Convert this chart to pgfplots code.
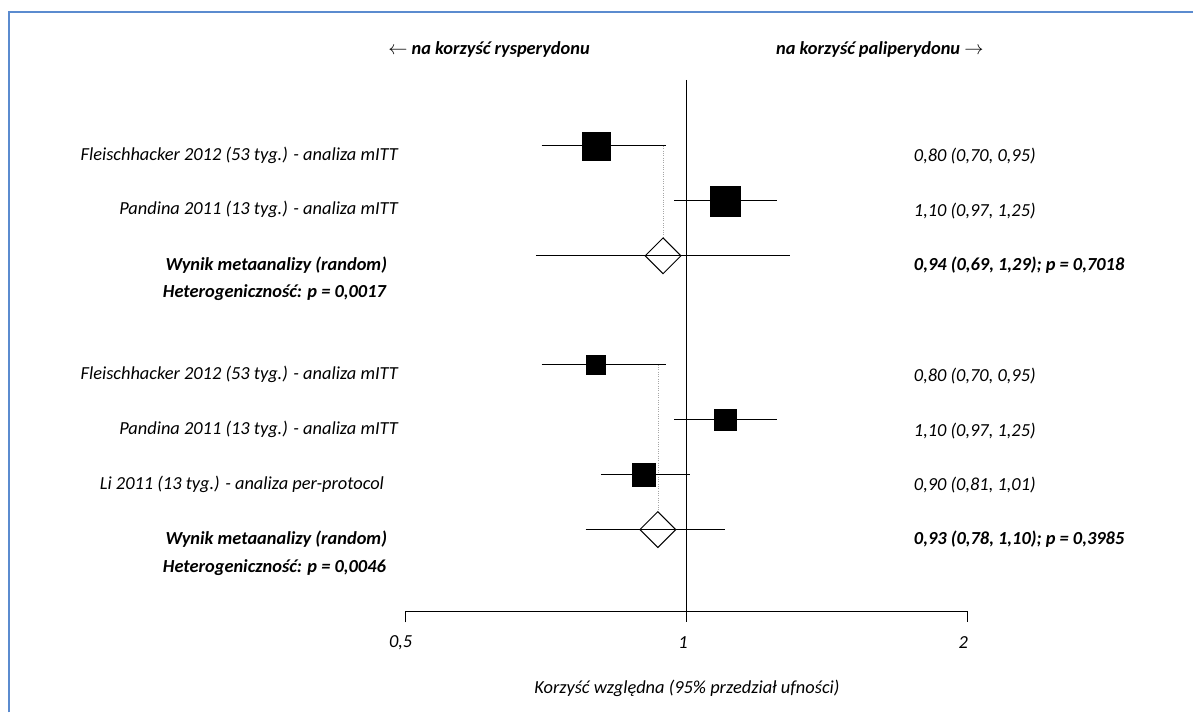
\documentclass[border=0pt]{standalone}
\usepackage{pgfplots}
\pgfplotsset{compat=1.18}
\usepackage{fontspec}
\setmainfont{Carlito}
\definecolor{frameblue}{HTML}{5B8BCF}
\definecolor{dotgray}{HTML}{A6A6A6}
\newcommand{\lfont}{\fontsize{13.8}{16}\selectfont\itshape}
\newcommand{\bfont}{\fontsize{13.8}{16}\selectfont\bfseries\itshape}

\begin{document}
\begin{tikzpicture}[font=\lfont]
\begin{axis}[
  scale only axis, width=895.5pt, height=534.75pt,
  xmode=log, log basis x=2,
  xmin=0.184215, xmax=3.4849,
  ymin=0, ymax=713, y dir=reverse,
  hide axis, clip=false,
]
\path (rel axis cs:0,0) (rel axis cs:1,1);
% frame
\draw[frameblue, line width=1.5pt] (rel axis cs:0.00754,0) -- (rel axis cs:0.00754,0.98247) -- (rel axis cs:1,0.98247);

% line of no effect and axis
\addplot[black, line width=0.75pt] coordinates {(1,80) (1,623)};
\addplot[black, line width=0.75pt] coordinates {(0.5,623) (0.5,612.5) (2,612.5) (2,623)};

% dotted connectors
\addplot[dotgray, line width=0.75pt, densely dotted] coordinates {(0.946,146) (0.946,237.5)};
\addplot[dotgray, line width=0.75pt, densely dotted] coordinates {(0.9345,365) (0.9345,512)};

% group 1
\addplot[black, line width=0.75pt] coordinates {(0.70,146) (0.95,146)};
\addplot[only marks, mark=square*, mark size=10.5pt, black] coordinates {(0.80,146)};
\addplot[black, line width=0.75pt] coordinates {(0.97,201) (1.25,201)};
\addplot[only marks, mark=square*, mark size=11.25pt, black] coordinates {(1.10,201)};
\addplot[black, line width=0.75pt] coordinates {(0.69,256) (1.29,256)};
\addplot[only marks, mark=square, mark size=9.5pt, black, mark options={rotate=45, line width=0.75pt}] coordinates {(0.944,256)};

% group 2
\addplot[black, line width=0.75pt] coordinates {(0.70,365) (0.95,365)};
\addplot[only marks, mark=square*, mark size=7.1pt, black] coordinates {(0.80,365)};
\addplot[black, line width=0.75pt] coordinates {(0.97,420) (1.25,420)};
\addplot[only marks, mark=square*, mark size=8pt, black] coordinates {(1.10,420)};
\addplot[black, line width=0.75pt] coordinates {(0.81,475) (1.01,475)};
\addplot[only marks, mark=square*, mark size=8.5pt, black] coordinates {(0.90,475)};
\addplot[black, line width=0.75pt] coordinates {(0.78,530) (1.10,530)};
\addplot[only marks, mark=square, mark size=9.5pt, black, mark options={rotate=45, line width=0.75pt}] coordinates {(0.932,530)};

% headers
\node[anchor=east, font=\bfont] at (rel axis cs:0.49832,0.92987) {$\leftarrow$ na korzyść rysperydonu};
\node[anchor=west, font=\bfont] at (rel axis cs:0.64657,0.92987) {na korzyść paliperydonu $\rightarrow$};

% left labels
\node[anchor=east] at (rel axis cs:0.33752,0.78261) {Fleischhacker 2012 (53 tyg.) - analiza mITT};
\node[anchor=east] at (rel axis cs:0.33752,0.70547) {Pandina 2011 (13 tyg.) - analiza mITT};
\node[anchor=east, font=\bfont] at (rel axis cs:0.32831,0.62833) {Wynik metaanalizy (random)};
\node[anchor=east, font=\bfont] at (rel axis cs:0.32747,0.58906) {Heterogeniczność: p = 0,0017};
\node[anchor=east] at (rel axis cs:0.33752,0.47405) {Fleischhacker 2012 (53 tyg.) - analiza mITT};
\node[anchor=east] at (rel axis cs:0.33752,0.39691) {Pandina 2011 (13 tyg.) - analiza mITT};
\node[anchor=east] at (rel axis cs:0.32580,0.31978) {Li 2011 (13 tyg.) - analiza per-protocol};
\node[anchor=east, font=\bfont] at (rel axis cs:0.32831,0.24264) {Wynik metaanalizy (random)};
\node[anchor=east, font=\bfont] at (rel axis cs:0.32747,0.20337) {Heterogeniczność: p = 0,0046};

% right labels
\node[anchor=west] at (rel axis cs:0.76214,0.78121) {0,80 (0,70, 0,95)};
\node[anchor=west] at (rel axis cs:0.76214,0.70407) {1,10 (0,97, 1,25)};
\node[anchor=west, font=\bfont] at (rel axis cs:0.76214,0.62833) {0,94 (0,69, 1,29); p = 0,7018};
\node[anchor=west] at (rel axis cs:0.76214,0.47265) {0,80 (0,70, 0,95)};
\node[anchor=west] at (rel axis cs:0.76214,0.39551) {1,10 (0,97, 1,25)};
\node[anchor=west] at (rel axis cs:0.76214,0.31978) {0,90 (0,81, 1,01)};
\node[anchor=west, font=\bfont] at (rel axis cs:0.76214,0.24264) {0,93 (0,78, 1,10); p = 0,3985};

% tick labels and axis title
\node at (rel axis cs:0.33585,0.09818) {0,5};
\node at (rel axis cs:0.57245,0.09818) {1};
\node at (rel axis cs:0.80737,0.09818) {2};
\node at (rel axis cs:0.57580,0.03366) {Korzyść względna (95\% przedział ufności)};
\end{axis}
\end{tikzpicture}
\end{document}
